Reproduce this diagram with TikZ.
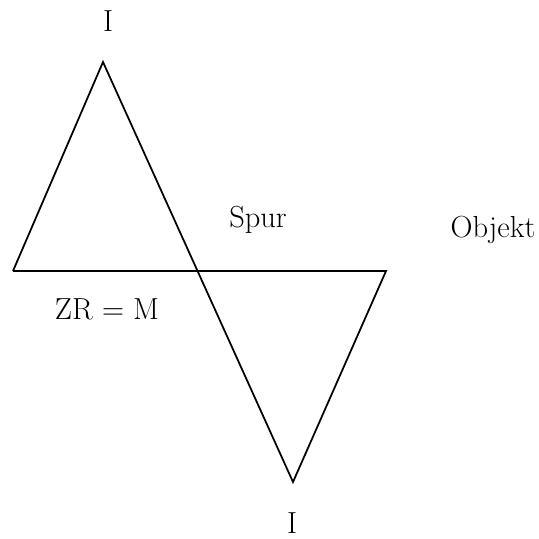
\documentclass[tikz,border=0pt]{standalone}
\usepackage{tikz}

\begin{document}
\begin{tikzpicture}[x=0.03cm,y=-0.03cm]
\tikzset{lbl/.style={inner sep=0pt,font=\fontsize{26}{30}\selectfont}}
\useasboundingbox (0,0) rectangle (539,539);
\coordinate (apexT) at (103,62);
\coordinate (baseL) at (13,271);
\coordinate (baseR) at (386,271);
\coordinate (apexB) at (293,482);
\draw[line width=1.5pt] (baseL) -- (apexT) -- (apexB) -- (baseR) -- (baseL);
\node[lbl] (iTop) at (108,21) {I};
\node[lbl] (spur) at (258,220) {Spur};
\node[lbl] (objekt) at (493,230) {Objekt};
\node[lbl] (zrm) at (107,309) {ZR = M};
\node[lbl] (iBot) at (292,523) {I};
\end{tikzpicture}
\end{document}
